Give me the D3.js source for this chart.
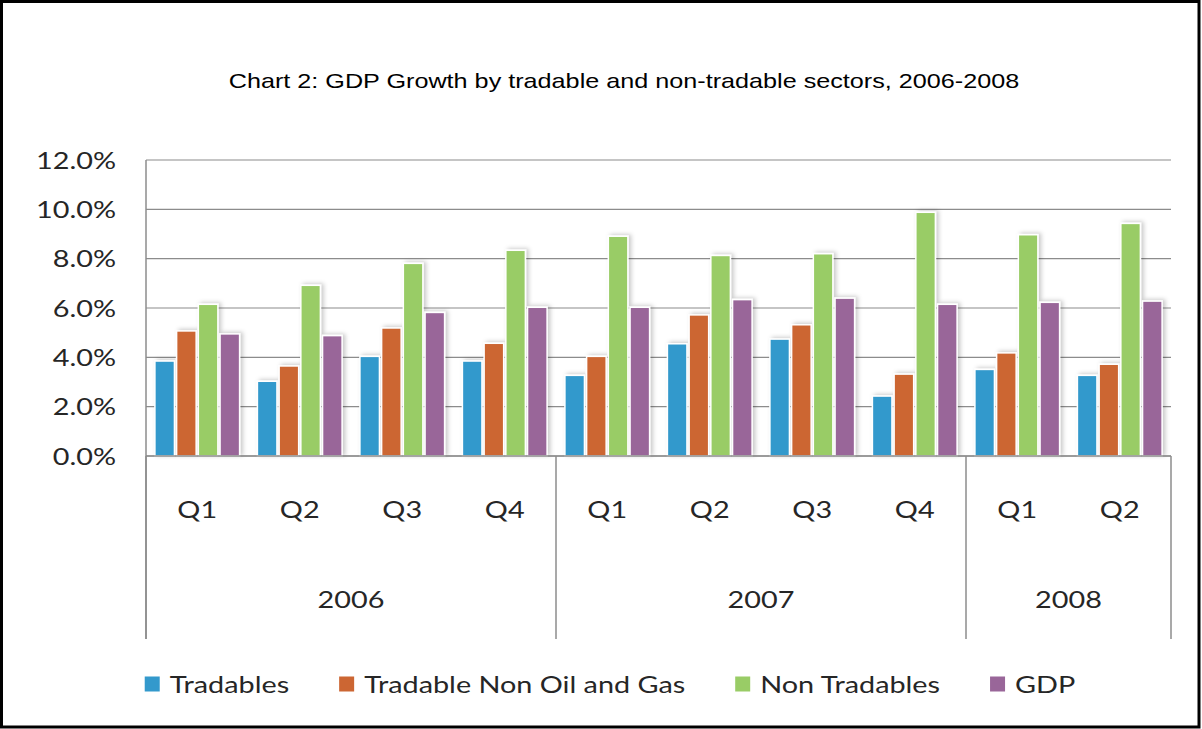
<!DOCTYPE html>
<html><head><meta charset="utf-8">
<script src="https://cdn.jsdelivr.net/npm/d3@7"></script>
<style>body{margin:0;background:#fff}svg{display:block}</style>
</head><body>
<svg id="c" width="1202" height="729"></svg>
<script>
// ---- data ----
const years = ["2006","2007","2008"];
const quarters = ["Q1","Q2","Q3","Q4","Q1","Q2","Q3","Q4","Q1","Q2"];
const quarterYears = ["2006","2006","2006","2006","2007","2007","2007","2007","2008","2008"];
const seriesNames = ["Tradables","Tradable Non Oil and Gas","Non Tradables","GDP"];
const tradables      = [3.85, 3.03, 4.04, 3.85, 3.27, 4.55, 4.74, 2.43, 3.51, 3.27];
const tradableNonOG  = [5.07, 3.65, 5.19, 4.57, 4.04, 5.72, 5.32, 3.32, 4.18, 3.72];
const nonTradables   = [6.15, 6.92, 7.81, 8.34, 8.91, 8.13, 8.20, 9.88, 8.97, 9.43];
const gdp            = [4.95, 4.88, 5.82, 6.03, 6.03, 6.34, 6.40, 6.15, 6.23, 6.28];
const yTicks = [0, 2, 4, 6, 8, 10, 12];
const title = "Chart 2: GDP Growth by tradable and non-tradable sectors, 2006-2008";
const colors = ["#3399cc", "#cc6633", "#99cc66", "#996699"];

const seriesVals = [tradables, tradableNonOG, nonTradables, gdp];
const svg = d3.select("#c");
const L = 146, R = 1171, T = 160, B = 456, AXB = 639;
const SX = 1.2;

const defs = svg.append("defs");
const f = defs.append("filter").attr("id","sh").attr("x","-30%").attr("y","-10%").attr("width","160%").attr("height","120%");
f.append("feDropShadow").attr("dx",2.5).attr("dy",-1).attr("stdDeviation",2).attr("flood-color","#000").attr("flood-opacity",0.22);

// frame
svg.append("rect").attr("x",1.5).attr("y",1.5).attr("width",1197.5).attr("height",725.5)
  .attr("fill","#fff").attr("stroke","#000").attr("stroke-width",3);

// title
svg.append("text").attr("transform",`translate(624,88) scale(1.26,1)`)
  .attr("text-anchor","middle").attr("font-family","Liberation Sans, Arial, sans-serif")
  .attr("font-size",20).attr("fill","#000").text(title);

const idx = d3.range(quarters.length);
const x0 = d3.scaleBand().domain(idx).range([L, R]).paddingInner(0).paddingOuter(0);
const x1 = d3.scaleBand().domain(d3.range(seriesNames.length)).range([0, x0.bandwidth()])
  .paddingInner(0.1).paddingOuter(0.41);
const y = d3.scaleLinear().domain([0, 12]).range([B, T]);

// gridlines
svg.append("g").selectAll("line").data(yTicks).join("line")
  .attr("x1", L).attr("x2", R).attr("y1", d => y(d)).attr("y2", d => y(d))
  .attr("stroke", "#8c8c8c").attr("stroke-width", 1.2);

// y labels
svg.append("g").selectAll("text").data(yTicks).join("text")
  .attr("transform", d => `translate(116,${y(d)}) scale(${SX},1)`)
  .attr("dy","0.36em").attr("text-anchor","end")
  .attr("font-family","Lato, sans-serif").attr("font-size",24).attr("fill","#262626")
  .text(d => d3.format(".1f")(d) + "%");

// bars
const bars = [];
seriesVals.forEach((vals, s) => vals.forEach((v, i) => bars.push({s, i, v})));
svg.append("g").attr("filter","url(#sh)").selectAll("rect").data(bars).join("rect")
  .attr("x", d => x0(d.i) + x1(d.s))
  .attr("width", x1.bandwidth())
  .attr("y", d => y(d.v))
  .attr("height", d => y(0) - y(d.v))
  .attr("fill", d => colors[d.s]).attr("stroke","#fff").attr("stroke-width",1.5);

// axes lines
svg.append("line").attr("x1",L).attr("x2",R).attr("y1",B).attr("y2",B).attr("stroke","#8c8c8c").attr("stroke-width",1.5);
svg.append("line").attr("x1",L).attr("x2",L).attr("y1",T).attr("y2",AXB).attr("stroke","#8c8c8c").attr("stroke-width",1.5);

// year separators
const yearStart = years.map(yr => quarterYears.indexOf(yr));
const yearEnd = years.map(yr => quarterYears.lastIndexOf(yr));
const seps = [...yearStart.map(i => x0(i)), x0(idx[idx.length-1]) + x0.bandwidth()];
svg.append("g").selectAll("line").data(seps).join("line")
  .attr("x1", d => d).attr("x2", d => d).attr("y1", B).attr("y2", AXB)
  .attr("stroke","#8c8c8c").attr("stroke-width",1.5);

// quarter labels
svg.append("g").selectAll("text").data(idx).join("text")
  .attr("transform", i => `translate(${x0(i) + x0.bandwidth()/2},509) scale(${SX},1)`)
  .attr("dy","0.36em").attr("text-anchor","middle")
  .attr("font-family","Lato, sans-serif").attr("font-size",24).attr("fill","#262626")
  .text(i => quarters[i]);

// year labels
svg.append("g").selectAll("text").data(years).join("text")
  .attr("transform", (yr, k) => `translate(${(x0(yearStart[k]) + x0(yearEnd[k]) + x0.bandwidth())/2},599) scale(${SX},1)`)
  .attr("dy","0.36em").attr("text-anchor","middle")
  .attr("font-family","Lato, sans-serif").attr("font-size",24).attr("fill","#262626")
  .text(d => d);

// legend
const lg = svg.append("g");
let cx = 0;
seriesNames.forEach((name, s) => {
  const g = lg.append("g").attr("transform", `translate(${cx},0)`);
  g.append("rect").attr("x",0).attr("y",-7.5).attr("width",15).attr("height",15).attr("fill",colors[s]);
  const t = g.append("text").attr("transform", `translate(25,0) scale(${SX},1)`).attr("dy","0.36em")
    .attr("font-family","Lato, sans-serif").attr("font-size",24).attr("fill","#262626").text(name);
  const w = t.node().getComputedTextLength() * SX;
  cx += 25 + w + 50;
});
const total = cx - 50;
lg.attr("transform", `translate(${610 - total/2},684)`);
</script>
</body></html>
